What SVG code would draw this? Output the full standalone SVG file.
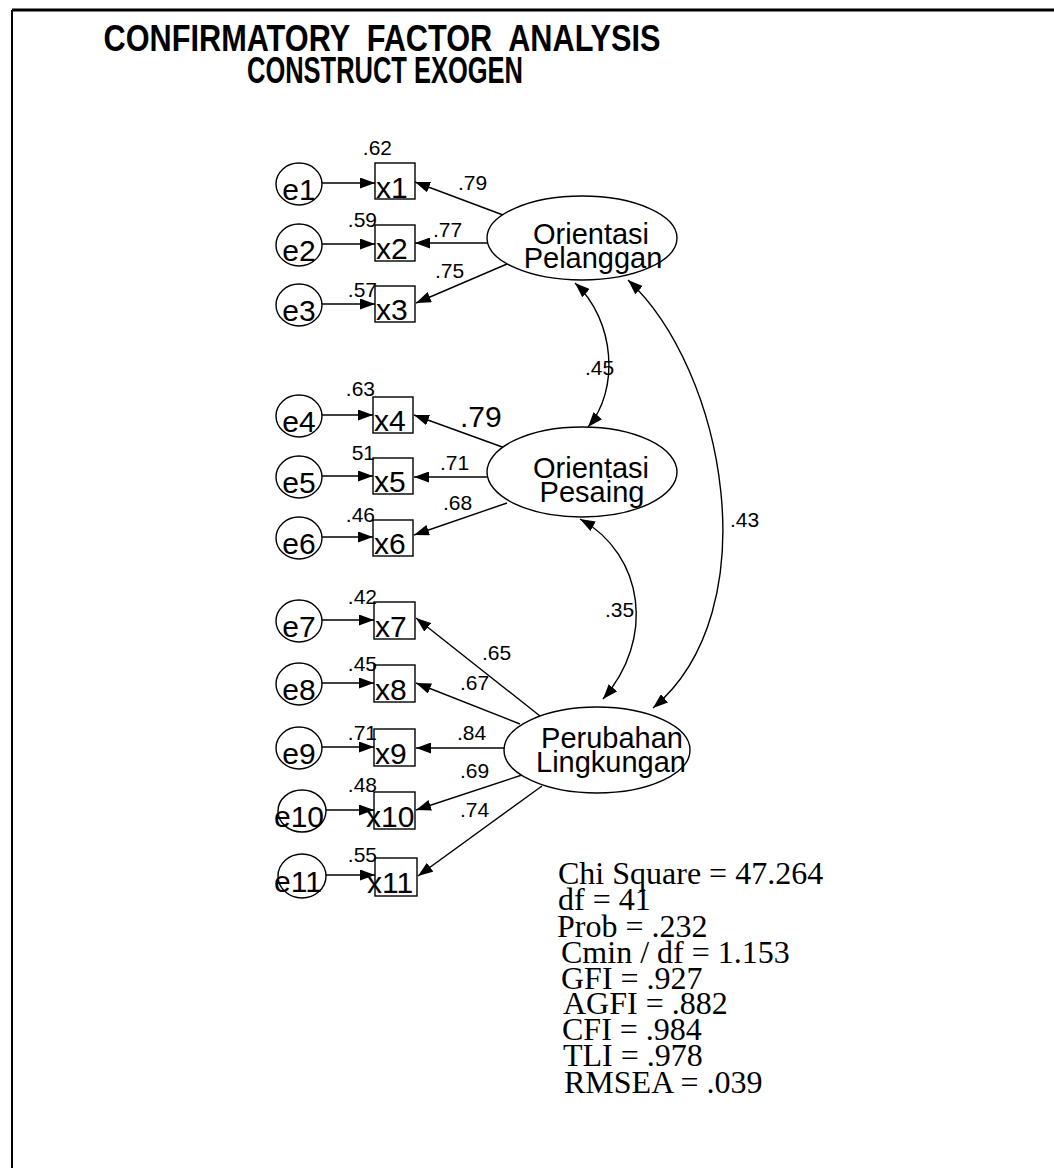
<svg xmlns="http://www.w3.org/2000/svg" width="1054" height="1168" viewBox="0 0 1054 1168">
<style>
  .bg{fill:#fff}
  .frame{stroke:#000;fill:none}
  .title{font-family:"Liberation Sans",Arial,sans-serif;font-weight:bold;font-size:37px;fill:#000;text-anchor:middle}
  .err{fill:#fff;stroke:#000;stroke-width:1.4}
  .box{fill:#fff;stroke:#000;stroke-width:1.4}
  .lat{fill:#fff;stroke:#000;stroke-width:1.4}
  .lbl{font-family:"Liberation Sans",Arial,sans-serif;font-size:30px;fill:#000}
  .fac{font-family:"Liberation Sans",Arial,sans-serif;font-size:29px;fill:#000;text-anchor:middle}
  .mid{text-anchor:middle}
  .val{font-family:"Liberation Sans",Arial,sans-serif;font-size:21px;fill:#000}
  .end{text-anchor:end}
  .edge{stroke:#000;stroke-width:1.4;fill:none}
  .stat{font-family:"Liberation Serif","Times New Roman",serif;font-size:32px;fill:#000}
</style>
<defs>
  <marker id="ah" viewBox="0 0 15 11" refX="15" refY="5.5" markerWidth="15" markerHeight="11" markerUnits="userSpaceOnUse" orient="auto-start-reverse">
    <path d="M0,0 L15,5.5 L0,11 z" fill="#000"/>
  </marker>
</defs>
<rect class="bg" x="0" y="0" width="1054" height="1168"/>
<g id="frame">
  <line class="frame" x1="12" y1="10" x2="1054" y2="10" stroke-width="3"/>
  <line class="frame" x1="12" y1="10" x2="12" y2="1168" stroke-width="2"/>
</g>
<g id="title">
  <text class="title" x="382" y="51" textLength="557" lengthAdjust="spacingAndGlyphs" xml:space="preserve">CONFIRMATORY  FACTOR  ANALYSIS</text>
  <text class="title" x="385" y="83" textLength="276" lengthAdjust="spacingAndGlyphs">CONSTRUCT EXOGEN</text>
</g>
<g id="connectors">
  <line class="edge" x1="322" y1="183" x2="375" y2="183" marker-end="url(#ah)"/>
  <line class="edge" x1="322" y1="244" x2="375" y2="244" marker-end="url(#ah)"/>
  <line class="edge" x1="322" y1="304" x2="375" y2="304" marker-end="url(#ah)"/>
  <line class="edge" x1="322" y1="415" x2="373" y2="415" marker-end="url(#ah)"/>
  <line class="edge" x1="322" y1="476" x2="373" y2="476" marker-end="url(#ah)"/>
  <line class="edge" x1="322" y1="537" x2="373" y2="537" marker-end="url(#ah)"/>
  <line class="edge" x1="322" y1="620" x2="374" y2="620" marker-end="url(#ah)"/>
  <line class="edge" x1="322" y1="683" x2="374" y2="683" marker-end="url(#ah)"/>
  <line class="edge" x1="322" y1="747" x2="374" y2="747" marker-end="url(#ah)"/>
  <line class="edge" x1="326" y1="810" x2="374" y2="810" marker-end="url(#ah)"/>
  <line class="edge" x1="326" y1="875" x2="375" y2="875" marker-end="url(#ah)"/>
  <line class="edge" x1="503" y1="215" x2="415" y2="182" marker-end="url(#ah)"/>
  <line class="edge" x1="488" y1="243" x2="415" y2="243" marker-end="url(#ah)"/>
  <line class="edge" x1="507" y1="264" x2="416" y2="303" marker-end="url(#ah)"/>
  <line class="edge" x1="505" y1="448" x2="414" y2="415" marker-end="url(#ah)"/>
  <line class="edge" x1="488" y1="477" x2="414" y2="477" marker-end="url(#ah)"/>
  <line class="edge" x1="507" y1="503" x2="414" y2="535" marker-end="url(#ah)"/>
  <line class="edge" x1="540" y1="716" x2="416" y2="618" marker-end="url(#ah)"/>
  <line class="edge" x1="520" y1="724" x2="416" y2="683" marker-end="url(#ah)"/>
  <line class="edge" x1="505" y1="748" x2="416" y2="748" marker-end="url(#ah)"/>
  <line class="edge" x1="522" y1="775" x2="416" y2="810" marker-end="url(#ah)"/>
  <line class="edge" x1="542" y1="786" x2="418" y2="876" marker-end="url(#ah)"/>
  <path class="edge" d="M575,283 C615,320 620,390 588,427" marker-start="url(#ah)" marker-end="url(#ah)"/>
  <path class="edge" d="M580,519 C645,555 655,640 603,699" marker-start="url(#ah)" marker-end="url(#ah)"/>
  <path class="edge" d="M628,280 C725,370 770,610 653,708" marker-start="url(#ah)" marker-end="url(#ah)"/>
  <text class="val" x="458" y="190">.79</text>
  <text class="val" x="433" y="237">.77</text>
  <text class="val" x="435" y="278">.75</text>
  <text class="lbl" x="460" y="427">.79</text>
  <text class="val" x="440" y="470">.71</text>
  <text class="val" x="443" y="510">.68</text>
  <text class="val" x="482" y="660">.65</text>
  <text class="val" x="460" y="690">.67</text>
  <text class="val" x="457" y="740">.84</text>
  <text class="val" x="460" y="778">.69</text>
  <text class="val" x="460" y="817">.74</text>
  <text class="val" x="585" y="375">.45</text>
  <text class="val" x="605" y="617">.35</text>
  <text class="val" x="730" y="527">.43</text>
</g>
<g id="e1"><ellipse class="err" cx="299" cy="184" rx="23" ry="21"/><text class="lbl mid" x="299" y="200">e1</text></g>
<g id="e2"><ellipse class="err" cx="299" cy="245" rx="23" ry="21"/><text class="lbl mid" x="299" y="261">e2</text></g>
<g id="e3"><ellipse class="err" cx="299" cy="305" rx="23" ry="21"/><text class="lbl mid" x="299" y="321">e3</text></g>
<g id="e4"><ellipse class="err" cx="299" cy="416" rx="23" ry="21"/><text class="lbl mid" x="299" y="432">e4</text></g>
<g id="e5"><ellipse class="err" cx="299" cy="477" rx="23" ry="21"/><text class="lbl mid" x="299" y="493">e5</text></g>
<g id="e6"><ellipse class="err" cx="299" cy="538" rx="23" ry="21"/><text class="lbl mid" x="299" y="554">e6</text></g>
<g id="e7"><ellipse class="err" cx="299" cy="621" rx="23" ry="21"/><text class="lbl mid" x="299" y="637">e7</text></g>
<g id="e8"><ellipse class="err" cx="299" cy="684" rx="23" ry="21"/><text class="lbl mid" x="299" y="700">e8</text></g>
<g id="e9"><ellipse class="err" cx="299" cy="748" rx="23" ry="21"/><text class="lbl mid" x="299" y="764">e9</text></g>
<g id="e10"><ellipse class="err" cx="302" cy="811" rx="24" ry="21"/><text class="lbl mid" x="299" y="827">e10</text></g>
<g id="e11"><ellipse class="err" cx="302" cy="876" rx="24" ry="22"/><text class="lbl mid" x="298" y="892">e11</text></g>
<g id="x1"><rect class="box" x="375" y="163" width="40" height="36"/><text class="lbl" x="376" y="198">x1</text><text class="val end" x="392" y="155">.62</text></g>
<g id="x2"><rect class="box" x="375" y="225" width="40" height="36"/><text class="lbl" x="376" y="259">x2</text><text class="val end" x="377" y="227">.59</text></g>
<g id="x3"><rect class="box" x="375" y="286" width="40" height="36"/><text class="lbl" x="376" y="320">x3</text><text class="val end" x="377" y="297">.57</text></g>
<g id="x4"><rect class="box" x="373" y="397" width="40" height="36"/><text class="lbl" x="374" y="431">x4</text><text class="val end" x="375" y="396">.63</text></g>
<g id="x5"><rect class="box" x="373" y="458" width="40" height="36"/><text class="lbl" x="374" y="492">x5</text><text class="val end" x="375" y="460">51</text></g>
<g id="x6"><rect class="box" x="373" y="520" width="40" height="36"/><text class="lbl" x="374" y="554">x6</text><text class="val end" x="375" y="522">.46</text></g>
<g id="x7"><rect class="box" x="374" y="602" width="41" height="37"/><text class="lbl" x="375" y="637">x7</text><text class="val end" x="377" y="604">.42</text></g>
<g id="x8"><rect class="box" x="374" y="665" width="41" height="37"/><text class="lbl" x="375" y="700">x8</text><text class="val end" x="377" y="671">.45</text></g>
<g id="x9"><rect class="box" x="374" y="729" width="41" height="37"/><text class="lbl" x="375" y="764">x9</text><text class="val end" x="377" y="740">.71</text></g>
<g id="x10"><rect class="box" x="374" y="792" width="41" height="37"/><text class="lbl" x="366" y="827">x10</text><text class="val end" x="377" y="792">.48</text></g>
<g id="x11"><rect class="box" x="375" y="858" width="42" height="38"/><text class="lbl" x="367" y="893">x11</text><text class="val end" x="377" y="862">.55</text></g>
<g id="orientasi-pelanggan"><ellipse class="lat" cx="582" cy="238" rx="95" ry="42"/><text class="fac" x="591" y="244">Orientasi</text><text class="fac" x="593" y="268">Pelanggan</text></g>
<g id="orientasi-pesaing"><ellipse class="lat" cx="582" cy="472" rx="95" ry="45"/><text class="fac" x="591" y="478">Orientasi</text><text class="fac" x="592" y="502">Pesaing</text></g>
<g id="perubahan-lingkungan"><ellipse class="lat" cx="597" cy="750" rx="93" ry="43"/><text class="fac" x="612" y="748">Perubahan</text><text class="fac" x="611" y="772">Lingkungan</text></g>
<g id="fit-stats">
  <text class="stat" x="558" y="884">Chi Square = 47.264</text>
  <text class="stat" x="558" y="910">df = 41</text>
  <text class="stat" x="557" y="937">Prob = .232</text>
  <text class="stat" x="561" y="963">Cmin / df = 1.153</text>
  <text class="stat" x="561" y="989">GFI = .927</text>
  <text class="stat" x="563" y="1014">AGFI = .882</text>
  <text class="stat" x="562" y="1040">CFI = .984</text>
  <text class="stat" x="563" y="1066">TLI = .978</text>
  <text class="stat" x="564" y="1093">RMSEA = .039</text>
</g>
</svg>
